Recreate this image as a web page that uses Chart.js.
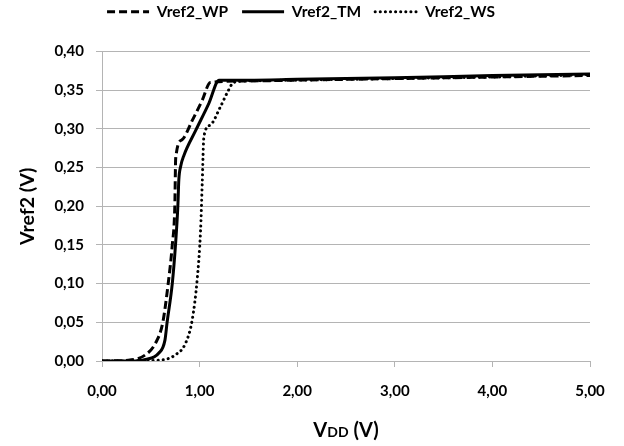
<!DOCTYPE html>
<html>
<head>
<meta charset="utf-8">
<script src="https://cdn.jsdelivr.net/npm/chart.js@4"></script>
<style>
  html, body { margin: 0; padding: 0; background: #fff; }
  #wrap { width: 624px; height: 446px; }
</style>
</head>
<body>
<div id="wrap"><canvas id="vrefChart"></canvas></div>
<script>
// values
const vddWP  = [0, 0.27, 0.445, 0.548, 0.623, 0.678, 0.72, 0.746, 0.755, 0.82, 0.925, 1.027, 1.11, 1.5, 2, 3, 4, 5];
const vrefWP = [0, 0.001, 0.008, 0.023, 0.050, 0.100, 0.150, 0.200, 0.262, 0.286, 0.311, 0.337, 0.360, 0.362, 0.363, 0.365, 0.367, 0.369];

const vddTM  = [0, 0.3, 0.445, 0.58, 0.645, 0.667, 0.72, 0.753, 0.777, 0.787, 0.805, 0.84, 0.96, 1.095, 1.2, 1.5, 2, 3, 4, 5];
const vrefTM = [0, 0, 0.002, 0.010, 0.027, 0.050, 0.100, 0.150, 0.200, 0.234, 0.251, 0.266, 0.298, 0.333, 0.363, 0.363, 0.364, 0.366, 0.369, 0.371];

const vddWS  = [0, 0.58, 0.753, 0.856, 0.924, 0.975, 1.01, 1.027, 1.044, 1.11, 1.215, 1.28, 1.35, 1.5, 2, 3, 4, 5];
const vrefWS = [0, 0.001, 0.008, 0.023, 0.053, 0.105, 0.169, 0.230, 0.290, 0.305, 0.329, 0.346, 0.360, 0.362, 0.363, 0.365, 0.367, 0.370];

const xTicks = [0, 1, 2, 3, 4, 5];
const fmt = v => Number(v).toFixed(2).replace('.', ',');
const pts = (xs, ys) => xs.map((x, i) => ({ x: x, y: ys[i] }));

const FONT = "Lato, 'Open Sans', sans-serif";
const GRID = '#b4b4b4';

// x axis title with small "DD"
const xTitle = {
    id: 'xTitle',
    afterDraw(chart) {
        const c = chart.ctx;
        const big = "bold 20px " + FONT, small = "bold 14px " + FONT;
        const parts = [['V', big], ['DD', small], [' (V)', big]];
        let w = 0;
        parts.forEach(p => { c.font = p[1]; w += c.measureText(p[0]).width; });
        const a = chart.chartArea;
        let x = (a.left + a.right) / 2 - w / 2;
        c.save();
        c.fillStyle = '#000';
        c.textBaseline = 'alphabetic';
        parts.forEach(p => { c.font = p[1]; c.fillText(p[0], x, 437); x += c.measureText(p[0]).width; });
        c.restore();
    }
};

// extra room under the legend
const legendGap = {
    id: 'legendGap',
    beforeInit(chart) {
        const fit = chart.legend.fit;
        chart.legend.fit = function () {
            fit.bind(chart.legend)();
            this.height += 22;
        };
    }
};

new Chart(document.getElementById('vrefChart'), {
    type: 'line',
    data: {
        datasets: [
            { label: 'Vref2_WP', data: pts(vddWP, vrefWP), borderColor: '#000', borderWidth: 3, borderDash: [8, 4], pointRadius: 0, cubicInterpolationMode: 'monotone' },
            { label: 'Vref2_TM', data: pts(vddTM, vrefTM), borderColor: '#000', borderWidth: 3, pointRadius: 0, cubicInterpolationMode: 'monotone' },
            { label: 'Vref2_WS', data: pts(vddWS, vrefWS), borderColor: '#000', borderWidth: 3, borderDash: [0.1, 5], borderCapStyle: 'round', pointRadius: 0, cubicInterpolationMode: 'monotone' }
        ]
    },
    options: {
        responsive: true,
        maintainAspectRatio: false,
        animation: false,
        layout: { padding: { left: 12, right: 34, top: -10, bottom: 31 } },
        plugins: {
            tooltip: { enabled: false },
            legend: {
                position: 'top',
                labels: {
                    color: '#000',
                    font: { family: FONT, size: 15.5, weight: 'bold' },
                    usePointStyle: true,
                    pointStyle: 'line',
                    pointStyleWidth: 42,
                    boxHeight: 10,
                    padding: 14,
                    generateLabels(chart) {
                        const items = Chart.defaults.plugins.legend.labels.generateLabels(chart);
                        items.forEach(it => {
                            const ds = chart.data.datasets[it.datasetIndex];
                            it.lineDash = ds.borderDash || [];
                            it.lineCap = ds.borderCapStyle || 'butt';
                            it.lineWidth = 3;
                        });
                        return items;
                    }
                }
            }
        },
        scales: {
            x: {
                type: 'linear',
                min: 0, max: 5,
                afterBuildTicks: axis => { axis.ticks = xTicks.map(v => ({ value: v })); },
                ticks: { color: '#000', font: { family: FONT, size: 15, weight: 'bold' }, padding: 15, callback: fmt },
                grid: { drawOnChartArea: false, drawTicks: true, tickLength: 6, color: GRID },
                border: { color: GRID }
            },
            y: {
                min: 0, max: 0.40,
                ticks: { stepSize: 0.05, color: '#000', font: { family: FONT, size: 15, weight: 'bold' }, padding: 12, callback: fmt },
                grid: { color: GRID, tickLength: 6 },
                border: { color: GRID },
                title: { display: true, text: 'Vref2 (V)', color: '#000', font: { family: FONT, size: 19.5, weight: 'bold' }, padding: { top: 4, bottom: 3 } }
            }
        }
    },
    plugins: [xTitle, legendGap]
});
</script>
</body>
</html>
